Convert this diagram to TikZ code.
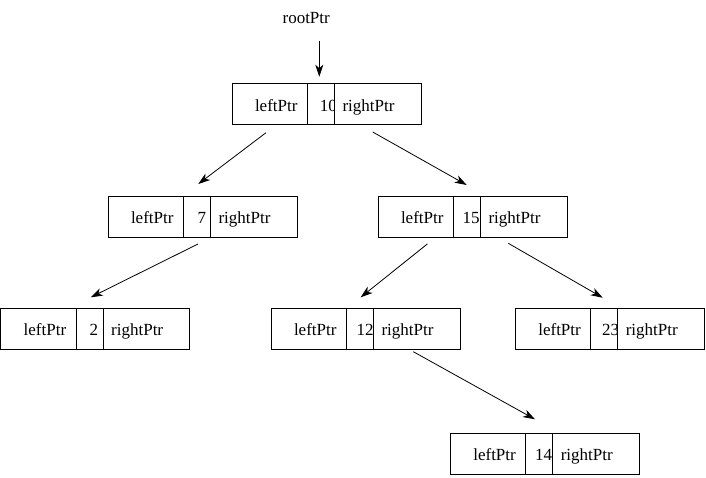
\documentclass[tikz,border=0pt]{standalone}
\usepackage{fontspec}
\setmainfont{Liberation Serif}
\usetikzlibrary{calc,arrows.meta}
\tikzset{
  boxframe/.style={draw=black, line width=0.9pt, inner sep=0pt, outer sep=0pt, minimum height=41pt},
  txt/.style={inner sep=0pt, outer sep=0pt, font=\fontsize{17}{20}\selectfont},
  arr/.style={draw=black, line width=0.8pt, -{Stealth[length=12pt,width=8pt,inset=3.5pt]}},
}
% name, x, y, number, number offset, baseline
\newcommand\bstnode[6]{%
  \node[boxframe, minimum width=189pt, anchor=north west] (#1) at (#2,#3) {};
  \node[txt, anchor=base west] (#1-key) at ($(#1.north west)+(75.5+#5,#6)$) {#4};
  \node[boxframe, fill=white, minimum width=86.5pt, anchor=north east] (#1-right) at (#1.north east) {};
  \draw[line width=0.9pt] ($(#1.north west)+(75.5,0)$) -- ($(#1.south west)+(75.5,0)$);
  \node[txt, anchor=base east] (#1-lt) at ($(#1.north west)+(65.5,#6)$) {leftPtr};
  \node[txt, anchor=base west] (#1-rt) at ($(#1-right.north west)+(8,#6)$) {rightPtr};
}
\begin{document}
\begin{tikzpicture}[x=1pt,y=-1pt]
\fill[white] (0,0) rectangle (706,477);
\useasboundingbox (0,0) rectangle (706,477);
\node[txt, anchor=base] (rootlbl) at (306.2,23.3) {rootPtr};
\bstnode{root}{232}{83.5}{10}{12.3}{28}
\bstnode{n7}{108}{196.7}{7}{14}{26.5}
\bstnode{n15}{378}{196.7}{15}{9}{26.6}
\bstnode{n2}{0.7}{308.3}{2}{13.3}{26.7}
\bstnode{n12}{271}{308.3}{12}{10}{26.7}
\bstnode{n23}{515.3}{308.3}{23}{11.4}{26.7}
\bstnode{n14}{450.3}{433.3}{14}{9.3}{26.7}
\draw[arr] ($(rootlbl.base)+(13.1,17.4)$) -- ($(root.north west)+(87.3,-6.8)$);
\draw[arr] ($(root.south west)+(34,8.2)$) -- ($(n7.north west)+(90.3,-12.7)$);
\draw[arr] ($(root.south west)+(140.7,7.5)$) -- ($(n15.north west)+(88.7,-11.7)$);
\draw[arr] ($(n7.south west)+(90,6.3)$) -- ($(n2.north west)+(90,-11)$);
\draw[arr] ($(n15.south west)+(49.3,6.3)$) -- ($(n12.north west)+(89.7,-11)$);
\draw[arr] ($(n15.south west)+(130.3,5.6)$) -- ($(n23.north west)+(87.4,-10.6)$);
\draw[arr] ($(n12.south west)+(142.3,2.4)$) -- ($(n14.north west)+(84.7,-14)$);
\end{tikzpicture}
\end{document}
